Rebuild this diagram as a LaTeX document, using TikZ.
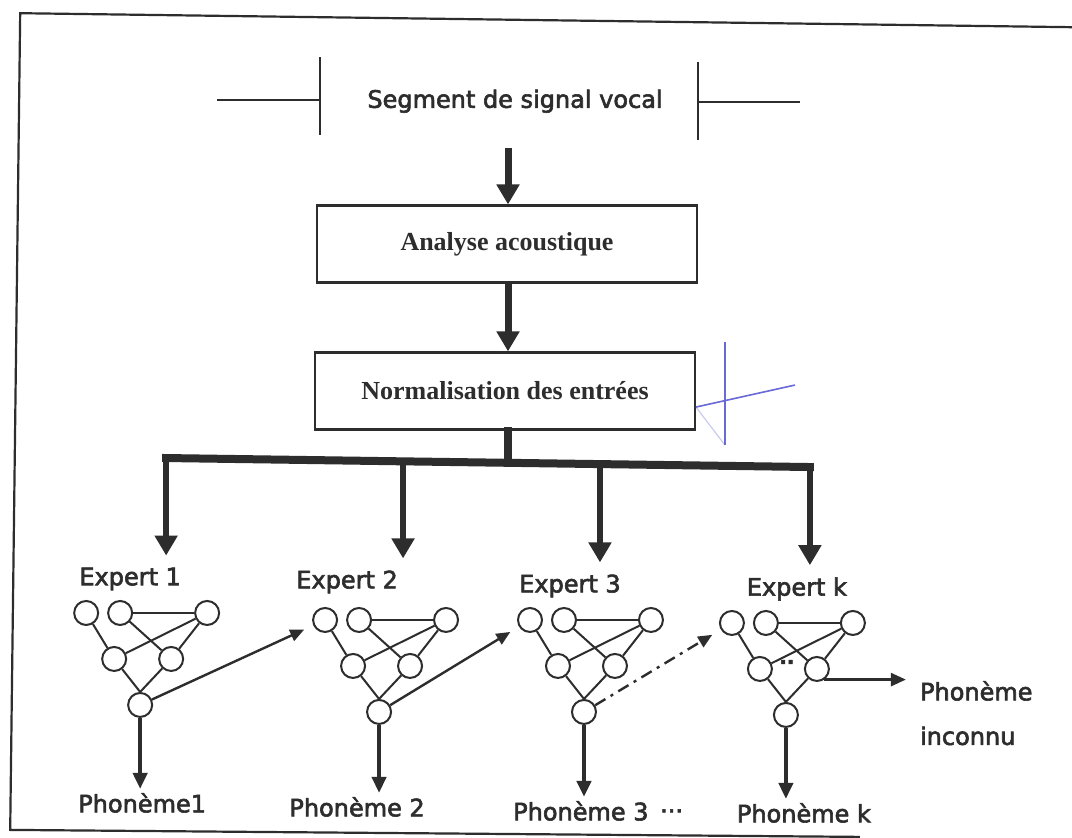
\documentclass[tikz,border=0pt]{standalone}
\usepackage{fontspec}
\setmainfont{Liberation Serif}
\newfontfamily\labelfont[FakeBold=2.5]{DejaVu Sans}
\usetikzlibrary{arrows.meta}
\definecolor{ink}{RGB}{45,45,45}
\definecolor{pen}{RGB}{105,105,215}
\begin{document}
\begin{tikzpicture}[x=1pt,y=-1pt,
  every path/.style={draw=ink},
  neuron/.style={circle,draw=ink,line width=2pt,minimum size=24pt,inner sep=0pt},
  link/.style={line width=2pt},
  procbox/.style={draw=ink,line width=2.4pt,minimum width=380pt,minimum height=77pt,
    text=ink,font=\bfseries\fontsize{26}{30}\selectfont},
  sanslabel/.style={font=\labelfont\fontsize{24}{28}\selectfont,text=ink,inner sep=0pt},
  bigarrow/.style={line width=7pt,-{Triangle[width=22pt,length=20pt]}},
  bus/.style={line width=8pt,line cap=rect,line join=miter},
  outarrow/.style={line width=4pt,-{Triangle[width=14pt,length=16pt]}},
  passarrow/.style={line width=2.4pt,-{Triangle[width=12pt,length=14pt]},shorten >=10pt},
  marker/.style={line width=2.2pt}
]
\useasboundingbox (0,0) rectangle (1072,837);
\fill[white] (0,0) rectangle (1072,837);

% frame
\draw[line width=2.2pt] (1072,27) -- (20,13) -- (10,830) -- (860,837);

% signal segment
\node[sanslabel] (seg) at (515,101) {Segment de signal vocal};
\draw[marker] (217,100) -- (320,100);
\draw[marker] (320,57) -- (320,135);
\draw[marker] (698,62) -- (698,140);
\draw[marker] (698,102) -- (800,102);
\coordinate (segfoot) at (508,148);

% processing chain
\node[procbox] (ana) at (507,244) {Analyse acoustique};
\node[procbox] (norm) at (505,391) {Normalisation des entrées};
\draw[bigarrow] (segfoot) -- (ana.north -| segfoot);
\draw[bigarrow] (ana.south -| segfoot) -- (norm.north -| segfoot);

% distribution bus
\coordinate (b1) at (166,458);
\coordinate (b2) at (403,461);
\coordinate (b3) at (600,464);
\coordinate (b4) at (810,467);
\draw[bus] (norm.south -| segfoot) -- (508,462);
\draw[bus] (b1) -- (b4);

% expert labels
\node[sanslabel] (ex1) at (130,579) {Expert 1};
\node[sanslabel] (ex2) at (347,582) {Expert 2};
\node[sanslabel] (ex3) at (570,586) {Expert 3};
\node[sanslabel] (exk) at (797,589) {Expert k};
\draw[bigarrow,line width=6pt,shorten >=12pt] (b1) -- (b1 |- ex1.north);
\draw[bigarrow,line width=6pt,shorten >=12pt] (b2) -- (b2 |- ex2.north);
\draw[bigarrow,line width=6pt,shorten >=12pt] (b3) -- (b3 |- ex3.north);
\draw[bigarrow,line width=6pt,shorten >=12pt] (b4) -- (b4 |- exk.north);

% expert networks
\foreach \e/\x/\y in {1/86/613, 2/325/620, 3/530/620, k/732/623}{
  \node[neuron] (tl\e) at (\x,\y) {};
  \node[neuron] (tm\e) at (\x+34,\y) {};
  \node[neuron] (tr\e) at (\x+121,\y) {};
  \node[neuron] (ml\e) at (\x+28,\y+46) {};
  \node[neuron] (mr\e) at (\x+85,\y+46) {};
  \node[neuron] (bo\e) at (\x+54,\y+92) {};
  \draw[link] (tm\e) -- (tr\e);
  \draw[link] (tl\e) -- (ml\e);
  \draw[link] (tm\e) -- (mr\e);
  \draw[link] (tr\e) -- (ml\e);
  \draw[link] (tr\e) -- (mr\e);
  \draw[link] (ml\e) -- (bo\e.north);
  \draw[link] (mr\e) -- (bo\e.north);
}
\node[sanslabel,font=\labelfont\bfseries\fontsize{20}{22}\selectfont] (dotsk) at (787,662) {..};

% outputs
\node[sanslabel] (ph1) at (142,803) {Phonème1};
\node[sanslabel] (ph2) at (357,807) {Phonème 2};
\node[sanslabel,anchor=west] (ph3) at (513,811) {Phonème 3};
\node[sanslabel,anchor=west] (dots) at (660,811) {...};
\node[sanslabel] (phk) at (804,813) {Phonème k};
\draw[outarrow,shorten >=4pt] (bo1) -- (bo1 |- ph1.north);
\draw[outarrow,shorten >=4pt] (bo2) -- (bo2 |- ph2.north);
\draw[outarrow,shorten >=4pt] (bo3) -- (bo3 |- ph3.north);
\draw[outarrow,shorten >=4pt] (bok) -- (bok |- phk.north);

% unknown phoneme
\node[sanslabel,anchor=west] (unk1) at (920,691) {Phonème};
\node[sanslabel,anchor=west] (unk2) at (920,736) {inconnu};
\draw[outarrow,line width=2.6pt,-{Triangle[width=13pt,length=15pt]},shorten >=14pt] (mrk.-55) -- (mrk.-55 -| unk1.west);

% passing to the next expert
\draw[passarrow] (bo1) -- (tl2);
\draw[passarrow] (bo2) -- (tl3);
\draw[passarrow,dash pattern=on 12pt off 6pt on 3pt off 6pt] (bo3) -- (tlk);

% pen mark
\draw[pen,line width=1.6pt] (725,342) -- (725,445);
\draw[pen,line width=1.6pt] (696,407) -- (795,385);
\draw[pen,line width=1.2pt,opacity=0.35] (696,407) -- (725,445);
\end{tikzpicture}
\end{document}
